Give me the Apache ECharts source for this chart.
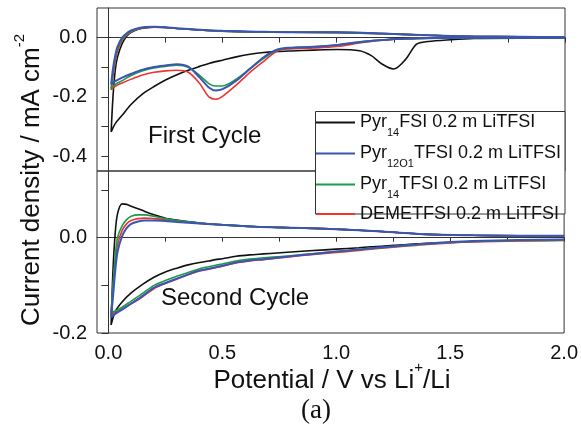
<!DOCTYPE html>
<html>
<head>
<meta charset="utf-8">
<script src="https://cdn.jsdelivr.net/npm/echarts@6.0.0/dist/echarts.min.js"></script>
<style>
  html, body { margin: 0; padding: 0; background: #fff; }
  #chart { width: 581px; height: 427px; }
</style>
</head>
<body>
<div id="chart"></div>
<script>
// series names, in legend order
const names = [
  'Pyr14FSI 0.2 m LiTFSI',
  'Pyr12O1TFSI 0.2 m LiTFSI',
  'Pyr14TFSI 0.2 m LiTFSI',
  'DEMETFSI 0.2 m LiTFSI'
];
const colors = ['#111111', '#3a55b2', '#1f9a48', '#ee3333'];

// potential grid (V): cathodic sweep 2.0 -> 0.012, then anodic sweep back
const cathodicV = [2.0, 1.8, 1.6, 1.5, 1.4, 1.35, 1.3, 1.25, 1.2, 1.15, 1.1, 1.0, 0.9, 0.8, 0.74, 0.68,
  0.62, 0.56, 0.5, 0.47, 0.44, 0.4, 0.35, 0.3, 0.25, 0.2, 0.15, 0.1, 0.06, 0.03, 0.012];
const anodicV = [0.02, 0.03, 0.04, 0.06, 0.08, 0.1, 0.13, 0.16, 0.2, 0.25, 0.3, 0.4, 0.5, 0.65, 0.8,
  1.0, 1.2, 1.4, 1.6, 1.8, 2.0];

// first cycle, current density (mA cm-2)
const first_cath_Pyr14FSI = [-0.002, -0.002, -0.003, -0.007, -0.013, -0.022, -0.075, -0.106, -0.09, -0.06, -0.044,
  -0.04, -0.042, -0.045, -0.047, -0.05, -0.056, -0.065, -0.076, -0.081, -0.087, -0.097, -0.11, -0.125, -0.143,
  -0.165, -0.19, -0.225, -0.262, -0.29, -0.318];
const first_cath_Pyr12O1 = [0.0, 0.0, 0.0, -0.001, -0.002, -0.003, -0.004, -0.005, -0.008, -0.011, -0.015,
  -0.025, -0.031, -0.034, -0.04, -0.066, -0.105, -0.145, -0.174, -0.178, -0.168, -0.135, -0.098, -0.09, -0.094,
  -0.099, -0.108, -0.122, -0.135, -0.147, -0.158];
const first_cath_Pyr14TFSI = [0.0, 0.0, 0.0, -0.001, -0.002, -0.003, -0.004, -0.005, -0.008, -0.011, -0.015,
  -0.025, -0.031, -0.034, -0.042, -0.07, -0.105, -0.14, -0.163, -0.163, -0.155, -0.128, -0.1, -0.093, -0.097,
  -0.102, -0.112, -0.128, -0.145, -0.158, -0.172];
const first_cath_DEME = [0.0, 0.0, 0.0, -0.001, -0.002, -0.003, -0.004, -0.006, -0.009, -0.013, -0.018,
  -0.03, -0.035, -0.038, -0.045, -0.08, -0.117, -0.16, -0.198, -0.208, -0.2, -0.155, -0.117, -0.11, -0.112,
  -0.117, -0.126, -0.14, -0.153, -0.164, -0.176];

const first_anod_Pyr14FSI = [-0.2, -0.11, -0.065, -0.02, 0.005, 0.018, 0.028, 0.033, 0.035, 0.034, 0.031,
  0.026, 0.022, 0.019, 0.018, 0.018, 0.014, 0.008, 0.004, 0.003, 0.002];
const first_anod_Pyr12O1 = [-0.105, -0.06, -0.03, 0.0, 0.015, 0.024, 0.032, 0.036, 0.037, 0.035, 0.032,
  0.027, 0.023, 0.02, 0.018, 0.018, 0.014, 0.008, 0.004, 0.003, 0.002];
const first_anod_Pyr14TFSI = [-0.12, -0.07, -0.038, -0.006, 0.011, 0.021, 0.03, 0.034, 0.036, 0.034, 0.031,
  0.026, 0.022, 0.019, 0.018, 0.017, 0.013, 0.008, 0.004, 0.003, 0.002];
const first_anod_DEME = [-0.13, -0.08, -0.045, -0.01, 0.008, 0.019, 0.029, 0.034, 0.035, 0.034, 0.031,
  0.026, 0.022, 0.019, 0.018, 0.017, 0.013, 0.008, 0.004, 0.003, 0.002];

// second cycle
const second_cath_Pyr14FSI = [-0.005, -0.006, -0.008, -0.01, -0.012, -0.013, -0.015, -0.016, -0.018, -0.019,
  -0.021, -0.024, -0.027, -0.03, -0.032, -0.034, -0.036, -0.039, -0.044, -0.046, -0.049, -0.052, -0.057,
  -0.064, -0.072, -0.083, -0.098, -0.116, -0.135, -0.155, -0.183];
const second_cath_Pyr12O1 = [-0.004, -0.005, -0.007, -0.009, -0.012, -0.014, -0.016, -0.018, -0.02, -0.022,
  -0.025, -0.029, -0.034, -0.039, -0.042, -0.045, -0.048, -0.052, -0.059, -0.062, -0.065, -0.069, -0.077,
  -0.086, -0.095, -0.105, -0.122, -0.138, -0.151, -0.16, -0.167];
const second_cath_Pyr14TFSI = [-0.005, -0.006, -0.008, -0.01, -0.013, -0.015, -0.017, -0.019, -0.021, -0.023,
  -0.025, -0.029, -0.033, -0.038, -0.04, -0.042, -0.045, -0.049, -0.055, -0.058, -0.061, -0.065, -0.073,
  -0.081, -0.09, -0.1, -0.117, -0.133, -0.146, -0.154, -0.157];
const second_cath_DEME = [-0.006, -0.007, -0.009, -0.011, -0.014, -0.016, -0.018, -0.02, -0.022, -0.024,
  -0.027, -0.031, -0.035, -0.04, -0.043, -0.046, -0.049, -0.053, -0.06, -0.063, -0.066, -0.07, -0.078,
  -0.087, -0.096, -0.107, -0.124, -0.139, -0.15, -0.157, -0.16];

const second_anod_Pyr14FSI = [-0.07, 0.01, 0.05, 0.071, 0.07, 0.066, 0.061, 0.055, 0.048, 0.041, 0.037,
  0.031, 0.027, 0.023, 0.021, 0.018, 0.013, 0.007, 0.005, 0.004, 0.004];
const second_anod_Pyr12O1 = [-0.125, -0.07, -0.03, 0.003, 0.02, 0.029, 0.034, 0.036, 0.036, 0.035, 0.033,
  0.03, 0.027, 0.023, 0.021, 0.018, 0.013, 0.007, 0.005, 0.004, 0.004];
const second_anod_Pyr14TFSI = [-0.1, -0.04, 0.0, 0.025, 0.038, 0.045, 0.048, 0.048, 0.045, 0.04, 0.036,
  0.031, 0.027, 0.023, 0.021, 0.018, 0.013, 0.007, 0.005, 0.004, 0.004];
const second_anod_DEME = [-0.11, -0.055, -0.015, 0.015, 0.029, 0.036, 0.04, 0.041, 0.04, 0.038, 0.035,
  0.03, 0.027, 0.023, 0.021, 0.018, 0.013, 0.007, 0.005, 0.004, 0.004];

const firstCycle = [
  [first_cath_Pyr14FSI, first_anod_Pyr14FSI],
  [first_cath_Pyr12O1, first_anod_Pyr12O1],
  [first_cath_Pyr14TFSI, first_anod_Pyr14TFSI],
  [first_cath_DEME, first_anod_DEME]
];
const secondCycle = [
  [second_cath_Pyr14FSI, second_anod_Pyr14FSI],
  [second_cath_Pyr12O1, second_anod_Pyr12O1],
  [second_cath_Pyr14TFSI, second_anod_Pyr14TFSI],
  [second_cath_DEME, second_anod_DEME]
];

const xTicks = [0, 0.25, 0.5, 0.75, 1.0, 1.25, 1.5, 1.75, 2.0];
const xLabels = [0, 0.5, 1.0, 1.5, 2.0];
const yTicksTop = [-0.4, -0.3, -0.2, -0.1, 0.0];
const yLabelsTop = [-0.4, -0.2, 0.0];
const yTicksBottom = [-0.2, -0.1, 0.0, 0.1];
const yLabelsBottom = [-0.2, 0.0];

const font = "'Liberation Sans', Arial, Helvetica, sans-serif";
const axisColor = '#333';

function loop(pair) {
  const pts = cathodicV.map((v, i) => [v, pair[0][i]]);
  return pts.concat(anodicV.map((v, i) => [v, pair[1][i]]));
}

// draw order: black, red, green, blue (blue ends up on top)
const drawOrder = [0, 3, 2, 1];
const series = [];
[firstCycle, secondCycle].forEach((cycle, g) => {
  drawOrder.forEach(k => {
    series.push({
      name: names[k],
      type: 'line',
      xAxisIndex: g,
      yAxisIndex: g,
      data: loop(cycle[k]),
      smooth: 0.3,
      showSymbol: false,
      symbol: 'none',
      lineStyle: { color: colors[k], width: k === 1 ? 2 : 1.6 },
      itemStyle: { color: colors[k] }
    });
  });
});

function xAxisFor(g) {
  return {
    type: 'value', gridIndex: g, min: -0.05, max: 2.0,
    axisLine: { show: true, lineStyle: { color: axisColor, width: 1 } },
    axisTick: { show: true, inside: false, length: g === 0 ? 5 : 4, customValues: xTicks,
      lineStyle: { color: axisColor } },
    axisLabel: { show: g === 1, customValues: xLabels, formatter: v => v.toFixed(1),
      fontSize: 20, fontFamily: font, color: '#111', margin: 10 },
    splitLine: { show: false }
  };
}
function yAxisFor(g, min, max, ticks, labels) {
  return {
    type: 'value', gridIndex: g, min: min, max: max,
    axisLine: { show: true, lineStyle: { color: axisColor, width: 1 } },
    axisTick: { show: true, inside: false, length: 7, customValues: ticks, lineStyle: { color: axisColor } },
    axisLabel: { customValues: labels, formatter: v => v.toFixed(1),
      fontSize: 20, fontFamily: font, color: '#111', margin: 10 },
    splitLine: { show: false }
  };
}

const legendText = {
  'Pyr14FSI 0.2 m LiTFSI': 'Pyr{sub|14}FSI 0.2 m LiTFSI',
  'Pyr12O1TFSI 0.2 m LiTFSI': 'Pyr{sub|12O1}TFSI 0.2 m LiTFSI',
  'Pyr14TFSI 0.2 m LiTFSI': 'Pyr{sub|14}TFSI 0.2 m LiTFSI',
  'DEMETFSI 0.2 m LiTFSI': 'DEMETFSI 0.2 m LiTFSI'
};

const chart = echarts.init(document.getElementById('chart'));
chart.setOption({
  animation: false,
  backgroundColor: '#fff',
  grid: [
    { left: 97, top: 8, width: 468, height: 163, show: true, borderColor: axisColor, borderWidth: 1 },
    { left: 97, top: 171, width: 468, height: 162, show: true, borderColor: axisColor, borderWidth: 1 }
  ],
  xAxis: [xAxisFor(0), xAxisFor(1)],
  yAxis: [
    yAxisFor(0, -0.45, 0.1, yTicksTop, yLabelsTop),
    yAxisFor(1, -0.2, 0.14, yTicksBottom, yLabelsBottom)
  ],
  legend: {
    data: names,
    orient: 'vertical',
    left: 316,
    top: 107,
    padding: 0,
    itemGap: 0,
    itemWidth: 39,
    itemHeight: 2,
    icon: 'rect',
    z: 6,
    formatter: name => legendText[name],
    textStyle: {
      fontSize: 18, fontFamily: font, color: '#111', lineHeight: 28,
      rich: { sub: { fontSize: 11, fontFamily: font, color: '#111', lineHeight: 8, padding: [20, 0, 0, 0] } }
    }
  },
  graphic: [
    { type: 'rect', z: 5, shape: { x: 315.5, y: 111.5, width: 249.5, height: 102.5 },
      style: { fill: '#fff', stroke: axisColor, lineWidth: 1 } },
    { type: 'text', left: 148, top: 124, z: 5,
      style: { text: 'First Cycle', fontSize: 24, fontFamily: font, fill: '#111' } },
    { type: 'text', left: 161, top: 286, z: 5,
      style: { text: 'Second Cycle', fontSize: 24, fontFamily: font, fill: '#111' } },
    { type: 'text', x: 32, y: 180, rotation: Math.PI / 2, z: 5,
      style: { text: 'Current density / mA cm{sup|-2}', fontSize: 26, fontFamily: font, fill: '#111',
        align: 'center', verticalAlign: 'middle',
        rich: { sup: { fontSize: 15, fontFamily: font, fill: '#111', lineHeight: 10, padding: [0, 0, 24, 0] } } } },
    { type: 'text', x: 332, y: 381, z: 5,
      style: { text: 'Potential / V vs Li{sup|+}/Li', fontSize: 26, fontFamily: font, fill: '#111',
        align: 'center', verticalAlign: 'middle',
        rich: { sup: { fontSize: 15, fontFamily: font, fill: '#111', lineHeight: 10, padding: [0, 0, 26, 0] } } } },
    { type: 'text', x: 316, y: 411, z: 5,
      style: { text: '(a)', fontSize: 27, fontFamily: "'Liberation Serif', 'Times New Roman', serif", fill: '#111',
        align: 'center', verticalAlign: 'middle' } }
  ],
  series: series
});
</script>
</body>
</html>
